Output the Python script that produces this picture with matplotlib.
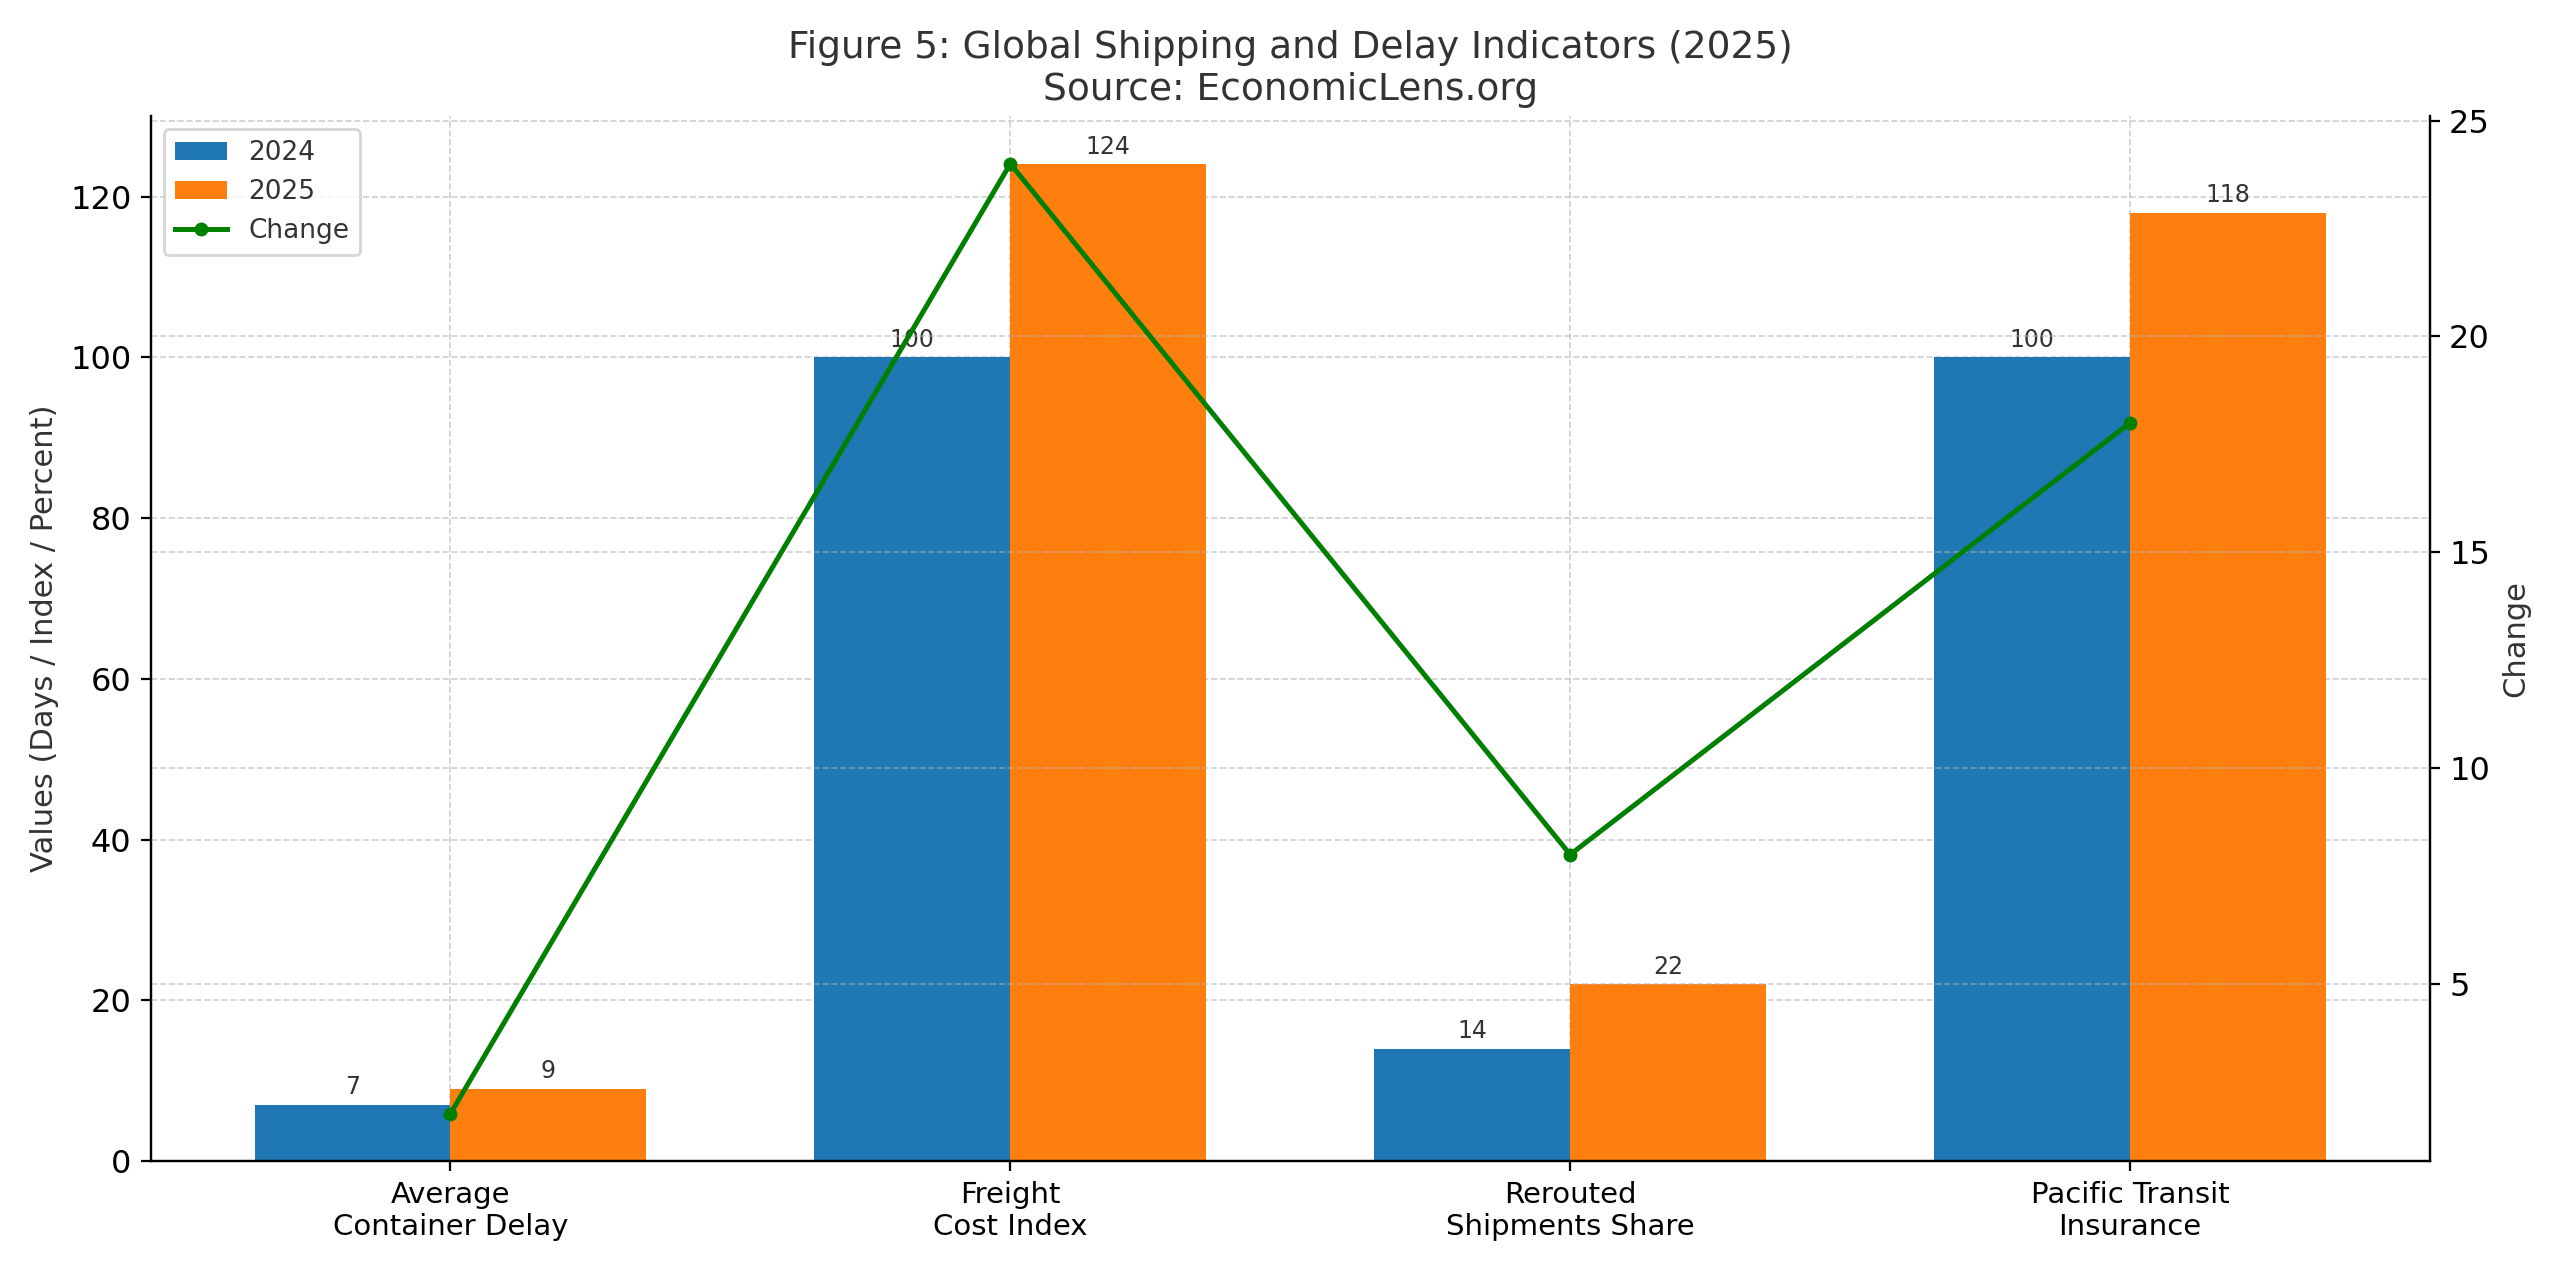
import numpy as np
import matplotlib.pyplot as plt

categories = ['Average\nContainer Delay', 'Freight\nCost Index', 'Rerouted\nShipments Share', 'Pacific Transit\nInsurance']
values_2024 = [7, 100, 14, 100]
values_2025 = [9, 124, 22, 118]
change = [2, 24, 8, 18]

plt.rcParams['text.color'] = '#333333'
plt.rcParams['axes.labelcolor'] = '#333333'

x = np.arange(len(categories))
w = 0.35

fig, ax = plt.subplots(figsize=(12.8, 6.355), dpi=200)
b1 = ax.bar(x - w/2, values_2024, w, label='2024', color='#1f77b4')
b2 = ax.bar(x + w/2, values_2025, w, label='2025', color='#ff7f0e')
for bars in (b1, b2):
    for r in bars:
        ax.annotate(f'{r.get_height():g}', (r.get_x() + r.get_width()/2, r.get_height()),
                    xytext=(0, 2), textcoords='offset points', ha='center', va='bottom',
                    fontsize=8.5, color='#333333')
ax.set_ylim(0, 130)
ax.set_xticks(x)
ax.set_xticklabels(categories, fontsize=10.5)
ax.tick_params(axis='y', labelsize=11.5)
ax.set_ylabel('Values (Days / Index / Percent)', fontsize=11)
ax.grid(True, linestyle='--', linewidth=0.6, alpha=0.6)
ax.set_axisbelow(True)

ax2 = ax.twinx()
ln = ax2.plot(x, change, color='green', marker='o', markersize=4, linewidth=1.8, label='Change')
ax2.set_ylabel('Change', fontsize=11)
ax2.tick_params(axis='y', labelsize=11.5)
ax2.grid(True, linestyle='--', linewidth=0.6, alpha=0.6)

for a in (ax, ax2):
    a.spines['top'].set_visible(False)

h1, l1 = ax.get_legend_handles_labels()
h2, l2 = ax2.get_legend_handles_labels()
ax.legend(h1 + h2, l1 + l2, loc='upper left', fontsize=9.5)

ax.set_title('Figure 5: Global Shipping and Delay Indicators (2025)\nSource: EconomicLens.org',
             fontsize=13.5, color='#333333')
fig.tight_layout()
fig.savefig('out.png')
